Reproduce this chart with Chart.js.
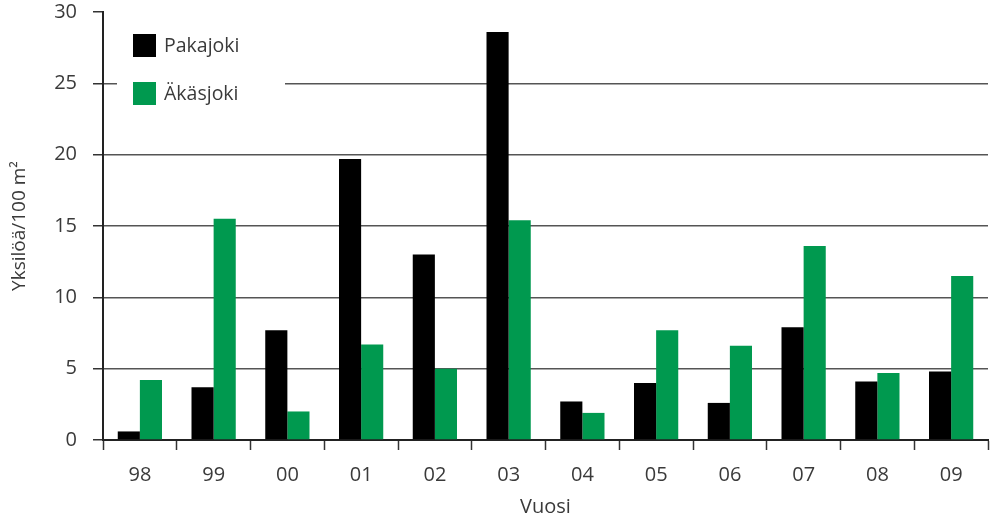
<!DOCTYPE html>
<html>
<head>
<meta charset="utf-8">
<script src="https://cdn.jsdelivr.net/npm/chart.js@4.4.0/dist/chart.umd.min.js"></script>
<style>
    html, body { margin: 0; padding: 0; background: #fff; }
    #wrap { width: 994px; height: 519px; position: relative; }
</style>
</head>
<body>
<div id="wrap"><canvas id="chart"></canvas></div>
<script>
// Data
const years = ['98', '99', '00', '01', '02', '03', '04', '05', '06', '07', '08', '09'];
const pakajoki = [0.6, 3.7, 7.7, 19.7, 13.0, 28.6, 2.7, 4.0, 2.6, 7.9, 4.1, 4.8];
const akasjoki = [4.2, 15.5, 2.0, 6.7, 5.0, 15.4, 1.9, 7.7, 6.6, 13.6, 4.7, 11.5];
const yTicks = [0, 5, 10, 15, 20, 25, 30];

const FONT = "'Open Sans', 'Noto Sans', sans-serif";
const TEXT = '#3a3a3a';
const GREEN = '#00994f';

// Legend drawn inside the plot, on a white box that hides the 25 gridline
const insideLegend = {
    id: 'insideLegend',
    afterDatasetsDraw(chart) {
        const { ctx, chartArea } = chart;
        const x0 = chartArea.left + 14;
        const y0 = chartArea.top + 14;
        ctx.save();
        ctx.fillStyle = '#fff';
        ctx.fillRect(x0, y0, 168, 90);
        ctx.font = `19.5px ${FONT}`;
        ctx.textBaseline = 'middle';
        chart.data.datasets.forEach((ds, i) => {
            const cy = y0 + 19 + i * 48;
            ctx.fillStyle = ds.backgroundColor;
            ctx.fillRect(x0 + 16, cy - 11, 23, 23);
            ctx.fillStyle = TEXT;
            ctx.fillText(ds.label, x0 + 47, cy + 1);
        });
        ctx.restore();
    }
};

new Chart(document.getElementById('chart').getContext('2d'), {
    type: 'bar',
    data: {
        labels: years,
        datasets: [
            { label: 'Pakajoki', data: pakajoki, backgroundColor: '#000000' },
            { label: 'Äkäsjoki', data: akasjoki, backgroundColor: GREEN }
        ]
    },
    options: {
        responsive: true,
        maintainAspectRatio: false,
        animation: false,
        layout: { padding: { top: 12, right: 6, left: 0, bottom: 0 } },
        datasets: {
            bar: { categoryPercentage: 0.6, barPercentage: 1.0 }
        },
        plugins: {
            legend: { display: false },
            tooltip: { enabled: false }
        },
        scales: {
            x: {
                grid: {
                    drawOnChartArea: false,
                    drawTicks: true,
                    tickLength: 10,
                    tickColor: '#333',
                    tickWidth: 1.5,
                    offset: true
                },
                border: { color: '#222', width: 2 },
                ticks: {
                    color: TEXT,
                    font: { family: FONT, size: 20 },
                    padding: 13
                },
                title: {
                    display: true,
                    text: 'Vuosi',
                    color: TEXT,
                    font: { family: FONT, size: 20 },
                    padding: 0
                },
                afterFit: scale => {
                    scale.height = 79;
                    scale.paddingLeft = 0;
                    scale.paddingRight = 0;
                }
            },
            y: {
                min: 0,
                max: 30,
                afterBuildTicks: scale => {
                    scale.ticks = yTicks.map(v => ({ value: v }));
                },
                grid: {
                    color: c => (c.tick && c.tick.value === 30) ? 'rgba(0,0,0,0)' : '#555',
                    lineWidth: 1.5,
                    tickColor: '#333',
                    tickWidth: 1.5,
                    tickLength: 10
                },
                border: { color: '#222', width: 2 },
                ticks: {
                    color: TEXT,
                    font: { family: FONT, size: 20 },
                    padding: 16
                },
                title: {
                    display: true,
                    text: 'Yksilöä/100 m²',
                    color: TEXT,
                    font: { family: FONT, size: 19 },
                    padding: { top: 8, bottom: 0 }
                },
                afterFit: scale => {
                    scale.width = 103;
                    scale.paddingTop = 0;
                    scale.paddingBottom = 0;
                }
            }
        }
    },
    plugins: [insideLegend]
});
</script>
</body>
</html>
